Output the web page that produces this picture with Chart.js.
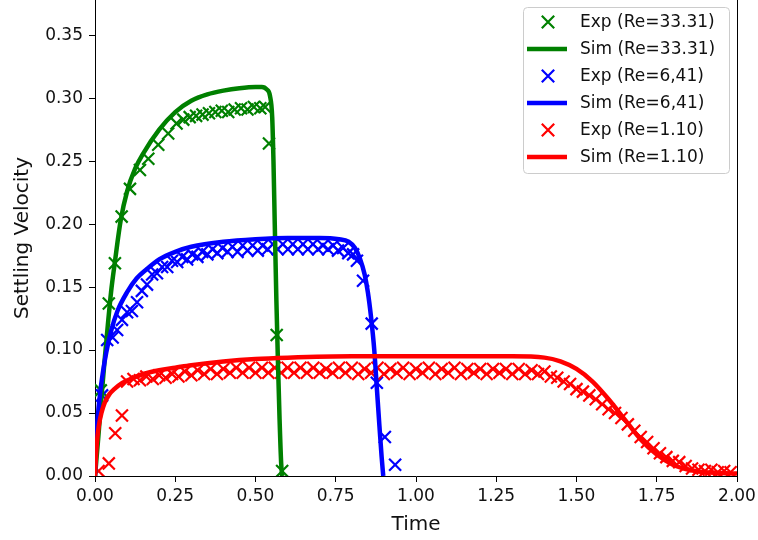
<!DOCTYPE html>
<html>
<head>
<meta charset="utf-8">
<script src="https://cdn.jsdelivr.net/npm/chart.js@4.4.0/dist/chart.umd.min.js"></script>
<style>
  html, body { margin: 0; padding: 0; background: #fff; }
  #wrap { width: 758px; height: 540px; position: relative; }
</style>
</head>
<body>
<div id="wrap"><canvas id="chart"></canvas></div>
<script>
// Re = 33.31 (green)
const greenExpTime = [0.018, 0.043, 0.062, 0.083, 0.109, 0.140, 0.166, 0.197, 0.228, 0.254, 0.275, 0.295, 0.315, 0.335, 0.355, 0.375, 0.395, 0.415, 0.435, 0.455, 0.475, 0.495, 0.515, 0.530, 0.542, 0.566, 0.583];
const greenExpVel = [0.068, 0.137, 0.169, 0.206, 0.228, 0.243, 0.252, 0.263, 0.272, 0.280, 0.283, 0.285, 0.286, 0.287, 0.288, 0.289, 0.290, 0.289, 0.291, 0.292, 0.291, 0.293, 0.292, 0.293, 0.264, 0.112, 0.004];
const greenSimTime = [0.000, 0.010, 0.020, 0.030, 0.040, 0.050, 0.062, 0.080, 0.100, 0.125, 0.150, 0.200, 0.250, 0.300, 0.350, 0.400, 0.450, 0.500, 0.520, 0.535, 0.545, 0.552, 0.556, 0.560, 0.565, 0.570, 0.575, 0.580, 0.583];
const greenSimVel = [0.000, 0.030, 0.062, 0.092, 0.120, 0.146, 0.170, 0.203, 0.226, 0.244, 0.256, 0.275, 0.289, 0.298, 0.303, 0.306, 0.308, 0.309, 0.309, 0.307, 0.302, 0.285, 0.250, 0.200, 0.140, 0.090, 0.045, 0.010, 0.000];

// Re = 6,41 (blue)
const blueExpTime = [0.022, 0.038, 0.055, 0.069, 0.084, 0.100, 0.115, 0.131, 0.146, 0.162, 0.178, 0.193, 0.209, 0.225, 0.240, 0.256, 0.272, 0.287, 0.303, 0.319, 0.334, 0.350, 0.366, 0.381, 0.397, 0.413, 0.428, 0.444, 0.460, 0.475, 0.491, 0.507, 0.522, 0.538, 0.554, 0.569, 0.585, 0.601, 0.616, 0.632, 0.648, 0.663, 0.679, 0.695, 0.710, 0.726, 0.742, 0.757, 0.773, 0.789, 0.804, 0.816, 0.835, 0.862, 0.878, 0.903, 0.935];
const blueExpVel = [0.064, 0.108, 0.110, 0.116, 0.124, 0.130, 0.131, 0.138, 0.147, 0.152, 0.160, 0.161, 0.166, 0.166, 0.171, 0.170, 0.174, 0.172, 0.176, 0.174, 0.178, 0.176, 0.180, 0.177, 0.181, 0.178, 0.182, 0.178, 0.183, 0.179, 0.183, 0.179, 0.183, 0.180, 0.184, 0.180, 0.184, 0.180, 0.184, 0.180, 0.184, 0.180, 0.184, 0.180, 0.183, 0.180, 0.183, 0.179, 0.181, 0.177, 0.176, 0.171, 0.155, 0.121, 0.074, 0.031, 0.009];
const blueSimTime = [0.000, 0.003, 0.008, 0.016, 0.025, 0.035, 0.050, 0.070, 0.100, 0.130, 0.160, 0.200, 0.250, 0.300, 0.400, 0.500, 0.600, 0.700, 0.760, 0.790, 0.810, 0.825, 0.840, 0.850, 0.860, 0.870, 0.878, 0.886, 0.893, 0.898];
const blueSimVel = [0.000, 0.025, 0.045, 0.066, 0.083, 0.098, 0.115, 0.131, 0.146, 0.157, 0.164, 0.172, 0.178, 0.182, 0.186, 0.188, 0.189, 0.189, 0.188, 0.186, 0.181, 0.173, 0.160, 0.146, 0.126, 0.100, 0.070, 0.040, 0.015, 0.000];

// Re = 1.10 (red)
const redExpTime = [0.011, 0.043, 0.063, 0.084,
  0.10, 0.12, 0.14, 0.16, 0.18, 0.20, 0.22, 0.24, 0.26, 0.28, 0.30, 0.32, 0.34, 0.36, 0.38, 0.40,
  0.42, 0.44, 0.46, 0.48, 0.50, 0.52, 0.54, 0.56, 0.58, 0.60, 0.62, 0.64, 0.66, 0.68, 0.70,
  0.72, 0.74, 0.76, 0.78, 0.80, 0.82, 0.84, 0.86, 0.88, 0.90, 0.92, 0.94, 0.96, 0.98, 1.00,
  1.02, 1.04, 1.06, 1.08, 1.10, 1.12, 1.14, 1.16, 1.18, 1.20, 1.22, 1.24, 1.26, 1.28, 1.30,
  1.32, 1.34, 1.36, 1.38, 1.40, 1.42, 1.44, 1.46, 1.48, 1.50, 1.52, 1.54, 1.56, 1.58, 1.60,
  1.62, 1.64, 1.66, 1.68, 1.70, 1.72, 1.74, 1.76, 1.78, 1.80, 1.82, 1.84, 1.86, 1.88, 1.90,
  1.92, 1.94, 1.96, 1.98];
const redExpVel = [0.004, 0.010, 0.034, 0.048,
  0.075, 0.077, 0.076, 0.079, 0.077, 0.080, 0.078, 0.081, 0.079, 0.083, 0.080, 0.084, 0.081, 0.085, 0.081, 0.085,
  0.082, 0.086, 0.082, 0.086, 0.082, 0.086, 0.082, 0.086, 0.082, 0.086, 0.082, 0.086, 0.082, 0.086, 0.082,
  0.085, 0.082, 0.086, 0.082, 0.086, 0.081, 0.085, 0.082, 0.086, 0.081, 0.085, 0.082, 0.086, 0.081, 0.085,
  0.082, 0.086, 0.081, 0.085, 0.082, 0.086, 0.081, 0.085, 0.082, 0.085, 0.081, 0.085, 0.082, 0.085, 0.081,
  0.085, 0.081, 0.084, 0.081, 0.083, 0.079, 0.078, 0.075, 0.073, 0.069, 0.067, 0.064, 0.061, 0.057, 0.053,
  0.050, 0.046, 0.041, 0.036, 0.031, 0.027, 0.022, 0.018, 0.015, 0.012, 0.011, 0.008, 0.006, 0.005, 0.004,
  0.005, 0.003, 0.004, 0.003];
const redSimTime = [0.000, 0.004, 0.008, 0.012, 0.020, 0.030, 0.045, 0.060, 0.085, 0.120, 0.150, 0.200, 0.250, 0.300, 0.400, 0.500, 0.600, 0.800, 1.000, 1.200, 1.300, 1.400, 1.450, 1.500, 1.550, 1.600, 1.650, 1.700, 1.750, 1.800, 1.850, 1.900, 2.000];
const redSimVel = [0.000, 0.020, 0.032, 0.040, 0.050, 0.058, 0.065, 0.069, 0.074, 0.078, 0.081, 0.084, 0.086, 0.088, 0.091, 0.093, 0.094, 0.095, 0.095, 0.095, 0.095, 0.094, 0.091, 0.085, 0.075, 0.061, 0.045, 0.029, 0.017, 0.009, 0.005, 0.003, 0.002];

const xTicks = [0, 0.25, 0.5, 0.75, 1, 1.25, 1.5, 1.75, 2];
const yTicks = [0, 0.05, 0.1, 0.15, 0.2, 0.25, 0.3, 0.35];

const toPoints = (xs, ys) => xs.map((x, i) => ({ x: x, y: ys[i] }));

function expSet(label, color, xs, ys, order) {
  return {
    label: label,
    data: toPoints(xs, ys),
    showLine: false,
    pointStyle: 'crossRot',
    pointRadius: 8.5,
    pointHoverRadius: 8.5,
    pointBorderWidth: 2.2,
    borderColor: color,
    backgroundColor: color,
    clip: 0,
    order: order
  };
}

function simSet(label, color, xs, ys, order) {
  return {
    label: label,
    data: toPoints(xs, ys),
    showLine: true,
    pointRadius: 0,
    borderWidth: 4.5,
    borderColor: color,
    backgroundColor: color,
    cubicInterpolationMode: 'monotone',
    clip: 0,
    order: order
  };
}

// right spine (top one falls outside the picture)
const framePlugin = {
  id: 'frame',
  afterDatasetsDraw(chart) {
    const { ctx, chartArea } = chart;
    ctx.save();
    ctx.strokeStyle = '#000';
    ctx.lineWidth = 1;
    ctx.beginPath();
    ctx.moveTo(Math.round(chartArea.right) + 0.5, chartArea.top);
    ctx.lineTo(Math.round(chartArea.right) + 0.5, chartArea.bottom);
    ctx.stroke();
    ctx.restore();
  }
};

// matplotlib-like legend box in the upper right corner
const legendPlugin = {
  id: 'boxLegend',
  afterDraw(chart) {
    const { ctx, chartArea } = chart;
    const sets = chart.data.datasets;
    const w = 206, rowH = 27;
    const h = sets.length * rowH + 4;
    const left = chartArea.right - 8 - w;
    const top = chartArea.top + 7;
    ctx.save();
    ctx.beginPath();
    ctx.roundRect(left + 0.5, top + 0.5, w, h, 4);
    ctx.fillStyle = 'rgba(255,255,255,0.8)';
    ctx.fill();
    ctx.strokeStyle = '#cccccc';
    ctx.lineWidth = 1;
    ctx.stroke();
    ctx.font = '17px "DejaVu Sans"';
    ctx.textBaseline = 'middle';
    ctx.textAlign = 'left';
    sets.forEach((ds, i) => {
      const cy = top + 15 + i * rowH;
      ctx.strokeStyle = ds.borderColor;
      if (ds.showLine) {
        ctx.lineWidth = 4.5;
        ctx.beginPath();
        ctx.moveTo(left + 4, cy);
        ctx.lineTo(left + 44, cy);
        ctx.stroke();
      } else {
        const r = 6.2;
        const cx = left + 25;
        ctx.lineWidth = 2.2;
        ctx.beginPath();
        ctx.moveTo(cx - r, cy - r);
        ctx.lineTo(cx + r, cy + r);
        ctx.moveTo(cx + r, cy - r);
        ctx.lineTo(cx - r, cy + r);
        ctx.stroke();
      }
      ctx.fillStyle = '#111';
      ctx.fillText(ds.label, left + 57, cy + 1);
    });
    ctx.restore();
  }
};

Chart.defaults.font.family = '"DejaVu Sans", sans-serif';
Chart.defaults.color = '#111';

new Chart(document.getElementById('chart'), {
  type: 'scatter',
  data: {
    datasets: [
      expSet('Exp (Re=33.31)', '#008000', greenExpTime, greenExpVel, 6),
      simSet('Sim (Re=33.31)', '#008000', greenSimTime, greenSimVel, 3),
      expSet('Exp (Re=6,41)', '#0000ff', blueExpTime, blueExpVel, 5),
      simSet('Sim (Re=6,41)', '#0000ff', blueSimTime, blueSimVel, 2),
      expSet('Exp (Re=1.10)', '#ff0000', redExpTime, redExpVel, 4),
      simSet('Sim (Re=1.10)', '#ff0000', redSimTime, redSimVel, 1)
    ]
  },
  options: {
    responsive: true,
    maintainAspectRatio: false,
    animation: false,
    events: [],
    layout: { autoPadding: false, padding: { left: 0, right: 21, top: 0, bottom: 0 } },
    plugins: {
      legend: { display: false },
      tooltip: { enabled: false }
    },
    scales: {
      x: {
        type: 'linear',
        min: 0,
        max: 2,
        afterBuildTicks: (scale) => { scale.ticks = xTicks.map(v => ({ value: v })); },
        afterFit: (scale) => {
          scale.height = 64;
          scale.paddingLeft = 0;
          scale.paddingRight = 0;
        },
        ticks: {
          autoSkip: false,
          maxRotation: 0,
          padding: 4,
          color: '#111',
          font: { size: 17 },
          callback: (v) => Number(v).toFixed(2)
        },
        grid: {
          drawOnChartArea: false,
          drawTicks: true,
          tickLength: 6,
          color: '#000'
        },
        border: { display: true, color: '#000', width: 1 },
        title: {
          display: true,
          text: 'Time',
          color: '#111',
          font: { size: 20, lineHeight: 1.2 },
          padding: { top: 0, bottom: 3 }
        }
      },
      y: {
        type: 'linear',
        min: 0,
        max: 0.378,
        afterBuildTicks: (scale) => { scale.ticks = yTicks.map(v => ({ value: v })); },
        afterFit: (scale) => {
          scale.width = 95;
          scale.paddingTop = 0;
          scale.paddingBottom = 0;
        },
        ticks: {
          autoSkip: false,
          padding: 6,
          color: '#111',
          font: { size: 17 },
          callback: (v) => Number(v).toFixed(2)
        },
        grid: {
          drawOnChartArea: false,
          drawTicks: true,
          tickLength: 6,
          color: '#000'
        },
        border: { display: true, color: '#000', width: 1 },
        title: {
          display: true,
          text: 'Settling Velocity',
          color: '#111',
          font: { size: 20, lineHeight: 1.2 },
          padding: { top: 11, bottom: 0 }
        }
      }
    }
  },
  plugins: [framePlugin, legendPlugin]
});
</script>
</body>
</html>
